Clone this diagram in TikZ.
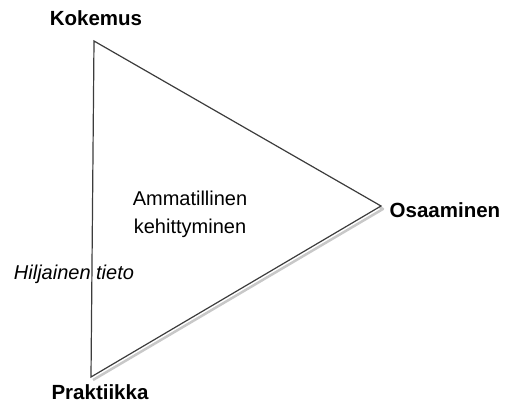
\documentclass[tikz,border=0pt]{standalone}
\usepackage{fontspec}
\setmainfont{Liberation Sans}
\usepackage{tikz}
\usetikzlibrary{positioning}
\definecolor{edgegray}{RGB}{60,60,60}
\definecolor{shadowgray}{RGB}{200,200,200}
\tikzset{
  corner/.style={font=\bfseries\fontsize{20.5}{22}\selectfont, inner sep=0pt},
  inside/.style={font=\fontsize{20}{28}\selectfont, align=center, inner sep=0pt},
}

\begin{document}
\begin{tikzpicture}[x=1pt,y=-1pt]
  \useasboundingbox (0,0) rectangle (509,406);
  \coordinate (Top) at (94,41);
  \coordinate (Right) at (381,206);
  \coordinate (Bottom) at (91,377);
  % varjo
  \draw[shadowgray, line width=2.5pt, line join=round] ([shift={(2,3)}]Top) -- ([shift={(2,3)}]Right) -- ([shift={(2,3)}]Bottom);
  \draw[edgegray, line width=1.2pt, fill=white] (Top) -- (Right) -- (Bottom) -- cycle;
  \node[corner] (Kokemus) at (96,18) {Kokemus};
  \node[corner] (Osaaminen) at (445,210) {Osaaminen};
  \node[corner] (Praktiikka) at (100,392) {Praktiikka};
  \node[inside] (Kehitys) at (190,214) {Ammatillinen\\kehittyminen};
  \node[inside, font=\itshape\fontsize{20}{22}\selectfont] (Tieto) at (74,274) {Hiljainen tieto};
\end{tikzpicture}
\end{document}
